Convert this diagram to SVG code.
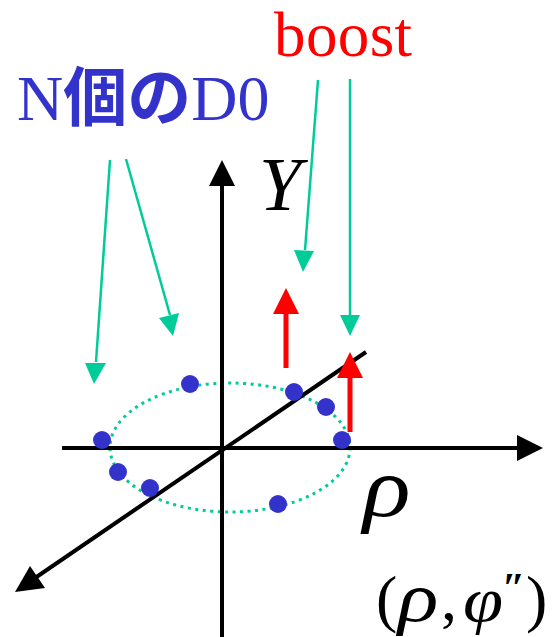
<svg xmlns="http://www.w3.org/2000/svg" width="556" height="637" viewBox="0 0 556 637">
<style>
.ax{stroke:#000;stroke-width:4;fill:none}
.gr{stroke:#00cc99;stroke-width:2.5;fill:none}
.rd{stroke:#f00;stroke-width:5;fill:none}
.dot{fill:#3333cc}
.t{font-family:"Liberation Serif","Noto Sans CJK JP",serif}
.i{font-style:italic;fill:#000}
</style>
<rect width="556" height="637" fill="#fff"/>
<g id="orbit"><ellipse cx="230" cy="447.500" rx="120" ry="64.500" fill="none" stroke="#00cc99" stroke-width="3" stroke-dasharray="3 4.500"/></g>
<g id="connectors">
<path class="ax" d="M62 448H520"/><polygon points="543,448 517,435 517,461"/>
<path class="ax" d="M222 637V185"/><polygon points="222,160 209,186 235,186"/>
<path class="ax" d="M366 352L35 578"/><polygon points="15,592 30,566 45,588"/>
<path class="gr" d="M110 160L96 362"/><polygon points="94,384 85,363 106,363" fill="#00cc99"/>
<path class="gr" d="M126 159L170 315"/><polygon points="173,336 159,318 179,313" fill="#00cc99"/>
<path class="gr" d="M318 80L305 250"/><polygon points="303,272 294,250 314,251" fill="#00cc99"/>
<path class="gr" d="M350 79V315"/><polygon points="350,336 340,315 360,315" fill="#00cc99"/>
<path class="rd" d="M286 368V312"/><polygon points="286,288 273,314 299,314" fill="#f00"/>
<path class="rd" d="M350 432V376"/><polygon points="350,352 337,378 363,378" fill="#f00"/>
</g>
<g id="dots">
<circle class="dot" cx="190" cy="384" r="9"/>
<circle class="dot" cx="294" cy="392" r="9"/>
<circle class="dot" cx="326" cy="407" r="9"/>
<circle class="dot" cx="342" cy="440" r="9"/>
<circle class="dot" cx="102" cy="440" r="9"/>
<circle class="dot" cx="118" cy="472" r="9"/>
<circle class="dot" cx="150" cy="488" r="9"/>
<circle class="dot" cx="278" cy="504" r="9"/>
</g>
<g id="labels">
<text class="t" x="274" y="56" font-size="63" letter-spacing="0.4" fill="#f00">boost</text>
<text class="t" x="17" y="120" font-size="64" fill="#3333cc">N<tspan font-weight="bold">個の</tspan>D0</text>
<text class="t i" x="259" y="210" font-size="76">Y</text>
<text class="t i" transform="translate(363 516) scale(1.18 1)" font-size="84">ρ</text>
<text class="t" x="376" y="620" font-size="64">(</text>
<text class="t i" transform="translate(398 621) scale(1.2 1)" font-size="70">ρ</text>
<text class="t" x="441" y="620" font-size="64">,</text>
<text class="t i" transform="translate(463 621) scale(1.15 1)" font-size="63">φ</text>
<text class="t i" x="502" y="602" font-size="42" font-weight="bold">″</text>
<text class="t" x="526" y="620" font-size="64">)</text>
</g>
</svg>
